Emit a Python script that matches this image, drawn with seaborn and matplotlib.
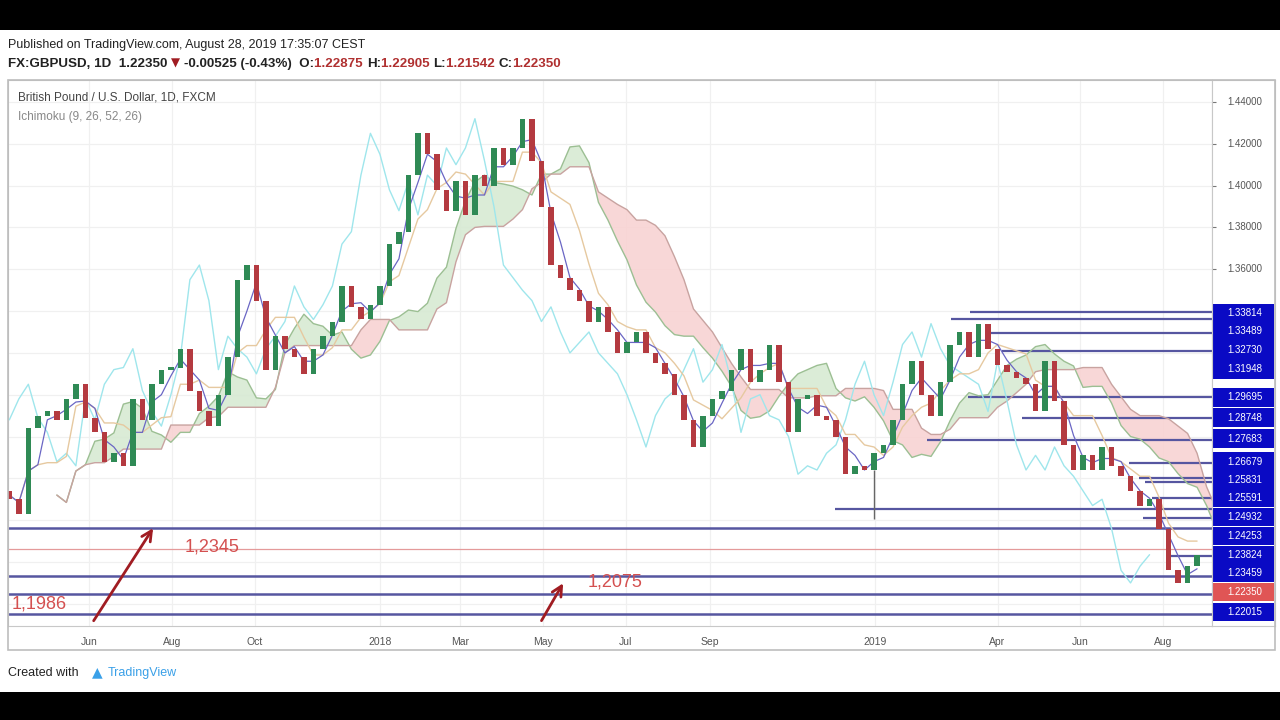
import numpy as np
import pandas as pd
import matplotlib
matplotlib.use("Agg")
import matplotlib.pyplot as plt
import seaborn as sns

# Weekly closes (one value per week, starting Monday 2017-04-03)
start_week = "2017-04-03"
first_open = 1.2540
closes = [
    1.250, 1.243, 1.284, 1.290, 1.292, 1.288, 1.298, 1.305, 1.289, 1.282,
    1.268, 1.272, 1.266, 1.298, 1.288, 1.305, 1.312, 1.313, 1.322, 1.302,
    1.292, 1.285, 1.300, 1.318, 1.355, 1.362, 1.345, 1.312, 1.328, 1.322,
    1.318, 1.310, 1.322, 1.328, 1.335, 1.352, 1.342, 1.336, 1.343, 1.352,
    1.372, 1.378, 1.405, 1.425, 1.415, 1.398, 1.388, 1.402, 1.386, 1.405,
    1.400, 1.418, 1.410, 1.418, 1.432, 1.412, 1.390, 1.362, 1.356, 1.350,
    1.345, 1.335, 1.342, 1.330, 1.320, 1.325, 1.330, 1.320, 1.315, 1.310,
    1.300, 1.288, 1.275, 1.290, 1.298, 1.302, 1.312, 1.322, 1.306, 1.312,
    1.324, 1.306, 1.282, 1.298, 1.300, 1.290, 1.288, 1.280, 1.262, 1.266,
    1.264, 1.272, 1.276, 1.288, 1.305, 1.316, 1.300, 1.290, 1.306, 1.324,
    1.330, 1.318, 1.334, 1.322, 1.314, 1.311, 1.308, 1.305, 1.292, 1.316,
    1.297, 1.276, 1.264, 1.271, 1.264, 1.275, 1.266, 1.261, 1.254, 1.247,
    1.250, 1.236, 1.216, 1.210, 1.218, 1.2235,
]
# flash-crash wick of 3 Jan 2019
spike_week = "2018-12-31"
spike_low = 1.2407

# drawn horizontal levels (price, start date)
level_prices = [1.3394, 1.3360, 1.3293, 1.3207, 1.2987, 1.2891, 1.2785,
                1.2675, 1.2603, 1.2584, 1.2507, 1.2455, 1.2411, 1.2229]
level_starts = ["2019-03-12", "2019-02-26", "2019-03-26", "2019-04-04",
                "2019-03-10", "2019-04-19", "2019-02-08", "2019-07-07",
                "2019-07-14", "2019-07-19", "2019-07-24", "2018-12-02",
                "2019-07-17", "2019-08-06"]
full_levels = [1.2364, 1.2134, 1.2047, 1.1951]
red_level = 1.2263

# price-scale labels (stacked as on the chart)
label_texts = ["1.33814", "1.33489", "1.32730", "1.31948", "1.29695", "1.28748",
               "1.27683", "1.26679", "1.25831", "1.25591", "1.24932", "1.24253",
               "1.23824", "1.23459", "1.22350", "1.22015"]
label_prices = [1.3389, 1.3303, 1.3212, 1.3121, 1.2987, 1.2891, 1.2790, 1.2680,
                1.2594, 1.2507, 1.2416, 1.2325, 1.2234, 1.2148, 1.2057, 1.1961]
last_label = "1.22350"
price_ticks = [1.36, 1.38, 1.40, 1.42, 1.44]
grid_prices = [1.20, 1.22, 1.24, 1.26, 1.28, 1.30, 1.32, 1.34, 1.36, 1.38, 1.40, 1.42, 1.44]

month_ticks = ["2017-04-01", "2017-06-01", "2017-08-01", "2017-10-01", "2018-01-01",
               "2018-03-01", "2018-05-01", "2018-07-01", "2018-09-01", "2019-01-01",
               "2019-04-01", "2019-06-01", "2019-08-01"]
month_labels = ["Apr", "Jun", "Aug", "Oct", "2018", "Mar", "May", "Jul", "Sep", "2019",
                "Apr", "Jun", "Aug"]

# hand-drawn notes
notes = [("1,2345", "2017-08-10", 1.2273), ("1,2075", "2018-06-03", 1.2105),
         ("1,1986", "2017-04-05", 1.2000)]
arrows = [(("2017-06-03", 1.1908), ("2017-07-19", 1.2373)),
          (("2018-04-29", 1.1908), ("2018-05-17", 1.2110))]

# ---- build the series ----
dates = pd.date_range(start_week, periods=len(closes), freq="7D")
prices = pd.DataFrame({"date": dates, "close": closes})
prices["open"] = prices["close"].shift(1)
prices.loc[0, "open"] = first_open
prices["high"] = prices[["open", "close"]].max(axis=1)
prices["low"] = prices[["open", "close"]].min(axis=1)


def mid(n):
    return (prices["high"].rolling(n, min_periods=1).max()
            + prices["low"].rolling(n, min_periods=1).min()) / 2


# Ichimoku (9, 26, 52, 26) scaled to weekly bars
tenkan = mid(2)
kijun = mid(5)
span_a = (tenkan + kijun) / 2
span_b = mid(10)
lead_dates = dates + pd.Timedelta(weeks=5)
lag_dates = dates - pd.Timedelta(weeks=5)

# ---- figure ----
sns.set_style("white")
plt.rcParams["font.family"] = ["Liberation Sans", "DejaVu Sans"]

W, H = 1280, 720
fig = plt.figure(figsize=(12.8, 7.2), dpi=100)
fig.patch.set_facecolor("black")
fig.add_artist(plt.Rectangle((0, 1 - 692 / H), 1, (692 - 30) / H, transform=fig.transFigure,
                             facecolor="white", edgecolor="none", zorder=-10))
fig.add_artist(plt.Rectangle((8 / W, 1 - 650 / H), (1275 - 8) / W, (650 - 80) / H,
                             transform=fig.transFigure, fill=False, edgecolor="#bdbdbd",
                             lw=1.2, zorder=5))

ax = fig.add_axes([8 / W, 1 - 626 / H, (1212 - 8) / W, (626 - 80) / H])
ylim = (1.1894, 1.4505)
xlim = (pd.Timestamp("2017-04-02"), pd.Timestamp("2019-09-06"))

ax.set_yticks(grid_prices)
ax.set_xticks(pd.to_datetime(month_ticks))
ax.set_xticklabels(month_labels)
ax.set_xlim(xlim)
ax.set_ylim(ylim)
ax.tick_params(axis="y", length=0, labelleft=False)
ax.tick_params(axis="x", length=3, color="#888888", labelsize=7.5, labelcolor="#555555", pad=5)
ax.grid(True, color="#f0f0f0", lw=0.9)
for s in ax.spines.values():
    s.set_color("#c8c8c8")

# levels
lvl_col = "#5656a0"
for p, d in zip(level_prices, level_starts):
    ax.hlines(p, pd.Timestamp(d), xlim[1], color=lvl_col, lw=1.6, zorder=2)
for p in full_levels:
    ax.hlines(p, xlim[0], xlim[1], color=lvl_col, lw=1.8, zorder=2)
ax.hlines(red_level, xlim[0], xlim[1], color="#e49a9a", lw=0.9, zorder=2)

# cloud
ax.fill_between(lead_dates, span_a, span_b, where=span_a >= span_b, interpolate=True,
                color="#d7ead3", alpha=0.9, lw=0, zorder=1)
ax.fill_between(lead_dates, span_a, span_b, where=span_a < span_b, interpolate=True,
                color="#f8d3d3", alpha=0.9, lw=0, zorder=1)
sns.lineplot(x=lead_dates, y=span_a, ax=ax, color="#9cbf93", lw=1, zorder=2, legend=False)
sns.lineplot(x=lead_dates, y=span_b, ax=ax, color="#c8a3a0", lw=1, zorder=2, legend=False)

# lagging / conversion / base lines
sns.lineplot(x=lag_dates, y=prices["close"], ax=ax, color="#9fe6ec", lw=1.0, zorder=3, legend=False)
sns.lineplot(x=dates, y=kijun, ax=ax, color="#e6c9a0", lw=1.0, zorder=3, legend=False)
sns.lineplot(x=dates, y=tenkan, ax=ax, color="#6a66c4", lw=0.9, zorder=3, legend=False)

# candles
up = prices["close"] >= prices["open"]
body = (prices["close"] - prices["open"]).abs().clip(lower=0.0012)
ax.vlines(pd.Timestamp(spike_week), spike_low, prices.loc[dates == spike_week, "low"].iloc[0],
          color="#666666", lw=1, zorder=4)
ax.bar(prices["date"], body, bottom=prices["low"], width=4.2,
       color=np.where(up, "#2f8a55", "#b43a40"), edgecolor="none", zorder=4)
ax.set_xlabel("")
ax.set_ylabel("")
ax.set_xlim(xlim)
ax.set_ylim(ylim)

# notes and arrows
for txt, d, p in notes:
    ax.text(pd.Timestamp(d), p, txt, color="#d45050", fontsize=13, va="center", ha="left", zorder=6)
for (d0, p0), (d1, p1) in arrows:
    ax.annotate("", xy=(pd.Timestamp(d1), p1), xytext=(pd.Timestamp(d0), p0),
                arrowprops=dict(arrowstyle="->", color="#a01c22", lw=2, mutation_scale=18),
                zorder=6, annotation_clip=False)

ax.text(10 / (1212 - 8), 1 - 18 / 546, "British Pound / U.S. Dollar, 1D, FXCM", transform=ax.transAxes,
        fontsize=8.5, color="#444444", va="center")
ax.text(10 / (1212 - 8), 1 - 37 / 546, "Ichimoku (9, 26, 52, 26)", transform=ax.transAxes,
        fontsize=8.5, color="#888888", va="center")

# price scale
ax2 = fig.add_axes([1212 / W, 1 - 626 / H, 63 / W, (626 - 80) / H])
ax2.set_ylim(ylim)
ax2.set_xlim(0, 1)
ax2.set_xticks([])
ax2.set_yticks(price_ticks + label_prices)
ax2.tick_params(axis="y", left=True, right=False, direction="in", length=3,
                color="#777777", labelleft=False)
for s in ax2.spines.values():
    s.set_color("#c8c8c8")
box_cols = ["#e05555" if t == last_label else "#0a0ac4" for t in label_texts]
ax2.barh(label_prices, 0.96, left=0.02, height=0.0089, color=box_cols, edgecolor="none")
ax2.set_ylim(ylim)
for t, p in zip(label_texts, label_prices):
    ax2.text(0.52, p, t, color="white", fontsize=7, ha="center", va="center")
for p in price_ticks:
    ax2.text(0.52, p, f"{p:.5f}", color="#555555", fontsize=7, ha="center", va="center")

# header
fig.text(8 / W, 1 - 45 / H, "Published on TradingView.com, August 28, 2019 17:35:07 CEST",
         fontsize=9, color="#222222", va="center")
parts = [("FX:GBPUSD, 1D  1.22350 ", "#222222"), ("▼ ", "#a01c22"),
         ("-0.00525 (-0.43%)  O:", "#222222"), ("1.22875 ", "#b03030"), ("H:", "#222222"),
         ("1.22905 ", "#b03030"), ("L:", "#222222"), ("1.21542 ", "#b03030"),
         ("C:", "#222222"), ("1.22350", "#b03030")]
prev = fig.text(8 / W, 1 - 70 / H, parts[0][0], fontsize=9.6, color=parts[0][1], va="bottom",
                weight="semibold")
for txt, col in parts[1:]:
    fam = ["DejaVu Sans"] if txt.startswith("▼") else ["Liberation Sans", "DejaVu Sans"]
    prev = ax.annotate(txt, xy=(1, 0), xycoords=prev, va="bottom", ha="left",
                       fontsize=8.5 if txt.startswith("▼") else 9.6, color=col,
                       weight="semibold", family=fam, annotation_clip=False)

fig.text(8 / W, 1 - 673 / H, "Created with", fontsize=9, color="#222222", va="center")
fig.text(92 / W, 1 - 672 / H, "▲", fontsize=10, color="#3aa0e8", va="center",
         family=["DejaVu Sans"])
fig.text(108 / W, 1 - 673 / H, "TradingView", fontsize=9, color="#3aa0e8", va="center")

fig.savefig("out.png", dpi=100, facecolor=fig.get_facecolor())
